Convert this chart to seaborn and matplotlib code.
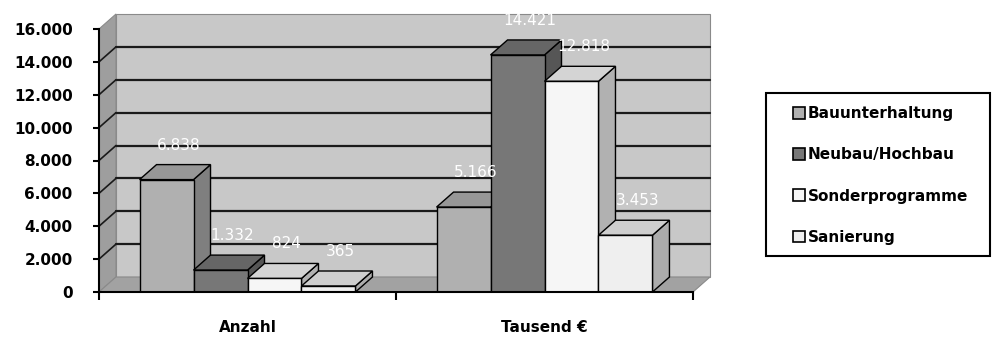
import matplotlib
matplotlib.use('Agg')
import matplotlib.pyplot as plt
import matplotlib.colors as mcolors
from matplotlib.patches import Polygon, Rectangle, Patch
import seaborn as sns
import pandas as pd

# Daten
kategorien = ['Anzahl', 'Tausend €']
serien = ['Bauunterhaltung', 'Neubau/Hochbau', 'Sonderprogramme', 'Sanierung']
anzahl = [6838, 1332, 824, 365]
tausend = [5166, 14421, 12818, 3453]
y_ticks = [0, 2000, 4000, 6000, 8000, 10000, 12000, 14000, 16000]

farben = ['#b0b0b0', '#777777', '#f6f6f6', '#efefef']

rows = []
for s, a, t in zip(serien, anzahl, tausend):
    rows.append({'Kategorie': kategorien[0], 'Serie': s, 'Wert': a})
    rows.append({'Kategorie': kategorien[1], 'Serie': s, 'Wert': t})
df = pd.DataFrame(rows)

sns.set_style('white')
plt.rcParams['font.family'] = ['DejaVu Sans']
plt.rcParams['text.color'] = 'black'
plt.rcParams['xtick.color'] = 'black'
plt.rcParams['ytick.color'] = 'black'
plt.rcParams['axes.labelcolor'] = 'black'

fig = plt.figure(figsize=(10.06, 3.38), dpi=100)
ax = fig.add_axes([99 / 1006, 1 - 292 / 338, 594 / 1006, 263 / 338])
ax.set_xlim(-0.5, 1.5)
ax.set_ylim(0, 16000)

# Tiefe der 3D-Darstellung (in Datenkoordinaten)
dx = 17 / 297
dy = 15 * 16000 / 263
ymax = 16000

# Waende und Boden
ax.add_patch(Polygon([(-0.5 + dx, dy), (1.5 + dx, dy), (1.5 + dx, ymax + dy), (-0.5 + dx, ymax + dy)],
                     closed=True, facecolor='#c8c8c8', edgecolor='#8a8a8a', lw=0.8, zorder=0.5, clip_on=False))
ax.add_patch(Polygon([(-0.5, 0), (-0.5 + dx, dy), (-0.5 + dx, ymax + dy), (-0.5, ymax)],
                     closed=True, facecolor='#9e9e9e', edgecolor='#8a8a8a', lw=0.8, zorder=0.6, clip_on=False))
ax.add_patch(Polygon([(-0.5, 0), (1.5, 0), (1.5 + dx, dy), (-0.5 + dx, dy)],
                     closed=True, facecolor='#a2a2a2', edgecolor='#8a8a8a', lw=0.8, zorder=0.7, clip_on=False))

# Gitternetz
for v in y_ticks[1:-1]:
    ax.plot([-0.5 + dx, 1.5 + dx], [v + dy, v + dy], color='#1a1a1a', lw=1.6, zorder=0.65, clip_on=False)
    ax.plot([-0.5, -0.5 + dx], [v, v + dy], color='#1a1a1a', lw=1.2, zorder=0.66, clip_on=False)

sns.barplot(data=df, x='Kategorie', y='Wert', hue='Serie', order=kategorien, hue_order=serien,
            palette=farben, width=0.727, saturation=1, edgecolor='black', linewidth=1,
            legend=False, ax=ax)

bars = sorted([p for p in ax.patches if isinstance(p, Rectangle) and p.get_height() > 0],
              key=lambda p: p.get_x())
for i, p in enumerate(bars):
    z = 3 + i * 0.1
    x0, w, h = p.get_x(), p.get_width(), p.get_height()
    fc = mcolors.to_rgb(p.get_facecolor())
    top = tuple(c * 0.86 for c in fc)
    side = tuple(c * 0.72 for c in fc)
    p.set_zorder(z + 0.02)
    ax.add_patch(Polygon([(x0 + w, 0), (x0 + w + dx, dy), (x0 + w + dx, h + dy), (x0 + w, h)],
                         closed=True, facecolor=side, edgecolor='black', lw=1, zorder=z, clip_on=False))
    ax.add_patch(Polygon([(x0, h), (x0 + dx, h + dy), (x0 + w + dx, h + dy), (x0 + w, h)],
                         closed=True, facecolor=top, edgecolor='black', lw=1, zorder=z + 0.01, clip_on=False))
    txt = f'{int(h):,}'.replace(',', '.')
    ax.text(x0 + w / 2 + dx * 0.7, h + 2100, txt, color='white', fontsize=11,
            ha='center', va='center', zorder=10, clip_on=False)

# Achsen
for s in ['top', 'right']:
    ax.spines[s].set_visible(False)
for s in ['left', 'bottom']:
    ax.spines[s].set_linewidth(1.5)
    ax.spines[s].set_color('black')
    ax.spines[s].set_zorder(5)

ax.set_yticks(y_ticks)
ax.set_yticklabels([f'{v:,}'.replace(',', '.') for v in y_ticks], fontsize=11, fontweight='bold')
ax.tick_params(axis='y', direction='out', length=4, width=1.5, pad=15, left=True)

ax.set_xticks([0, 1])
ax.set_xticklabels(kategorien, fontsize=11, fontweight='bold')
ax.set_xticks([-0.5, 0.5, 1.5], minor=True)
ax.tick_params(axis='x', which='major', length=0, pad=20)
ax.tick_params(axis='x', which='minor', direction='out', length=6, width=1.5, bottom=True)
ax.set_xlabel('')
ax.set_ylabel('')
ax.patch.set_visible(False)

# Legende
fig.patches.append(Rectangle((766 / 1006, 1 - 256 / 338), 224 / 1006, 163 / 338, transform=fig.transFigure,
                             facecolor='white', edgecolor='black', lw=1.5))
handles = [Patch(facecolor=c, edgecolor='black', lw=1.2) for c in farben]
leg = fig.legend(handles, serien, loc='upper left', bbox_to_anchor=(793 / 1006, 1 - 106 / 338),
                 frameon=False, prop={'weight': 'bold', 'size': 11},
                 handlelength=0.8, handleheight=0.8, handletextpad=0.15, labelspacing=1.72,
                 borderpad=0, borderaxespad=0)

plt.savefig('out.png', dpi=100)
